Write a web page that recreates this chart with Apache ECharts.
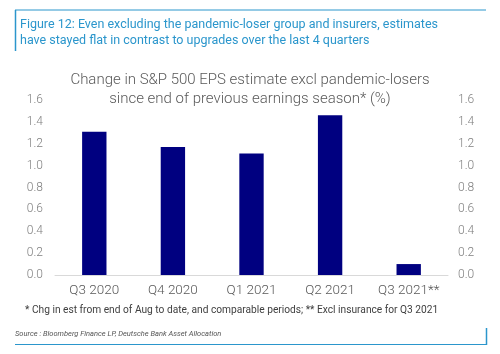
<!DOCTYPE html>
<html>
<head>
<meta charset="utf-8">
<script src="https://cdn.jsdelivr.net/npm/echarts@6/dist/echarts.min.js"></script>
<style>
  html, body { margin: 0; padding: 0; background: #fff; }
  #chart { width: 500px; height: 354px; }
</style>
</head>
<body>
<div id="chart"></div>
<script>
// 数据
const categories = ['Q3 2020', 'Q4 2020', 'Q1 2021', 'Q2 2021', 'Q3 2021**'];
const epsChange = [1.31, 1.17, 1.11, 1.46, 0.10];
const axisMin = 0;
const axisMax = 1.6;
const axisStep = 0.2;

const BLUE = '#2b96cc';
const FONT = 'Roboto, "Open Sans", Arial, sans-serif';

const chart = echarts.init(document.getElementById('chart'), null, { renderer: 'canvas' });

const yAxisBase = {
  type: 'value', min: axisMin, max: axisMax, interval: axisStep,
  axisLine: { show: false }, axisTick: { show: false }, splitLine: { show: false },
  axisLabel: { color: '#7f7f7f', fontSize: 12, fontWeight: 300, fontFamily: FONT, formatter: (v) => v.toFixed(1) }
};

chart.setOption({
  animation: false,
  grid: { left: 55, right: 52, top: 100, bottom: 79, containLabel: false },
  title: {
    text: 'Change in S&P 500 EPS estimate excl pandemic-losers\nsince end of previous earnings season* (%)',
    left: 'center', top: 66,
    textStyle: { color: '#595959', fontSize: 15, fontWeight: 300, fontFamily: FONT, lineHeight: 19 }
  },
  xAxis: {
    type: 'category', data: categories,
    axisLine: { lineStyle: { color: '#d9d9d9', width: 1 } },
    axisTick: { show: false },
    axisLabel: { interval: 0, hideOverlap: false, color: '#595959', fontSize: 13.5, fontWeight: 300, fontFamily: FONT, margin: 9 }
  },
  yAxis: [
    Object.assign({}, yAxisBase, { position: 'left', axisLabel: Object.assign({}, yAxisBase.axisLabel, { margin: 12 }) }),
    Object.assign({}, yAxisBase, { position: 'right', axisLabel: Object.assign({}, yAxisBase.axisLabel, { margin: 10 }) })
  ],
  series: [{
    type: 'bar', data: epsChange, barWidth: '31%',
    itemStyle: { color: '#000080' }
  }],
  graphic: [
    // 顶部框线
    { type: 'line', shape: { x1: 15, y1: 10, x2: 486, y2: 10 }, style: { stroke: BLUE, lineWidth: 1 } },
    { type: 'line', shape: { x1: 15.5, y1: 10, x2: 15.5, y2: 51 }, style: { stroke: BLUE, lineWidth: 1.5 } },
    {
      type: 'text', left: 20, top: 17,
      style: {
        text: 'Figure 12: Even excluding the pandemic-loser group and insurers, estimates\nhave stayed flat in contrast to upgrades over the last 4 quarters',
        fill: BLUE, font: '12.5px ' + FONT, lineHeight: 16
      }
    },
    {
      type: 'text', left: 25, top: 305,
      style: {
        text: '* Chg in est from end of Aug to date, and comparable periods; ** Excl insurance for Q3 2021',
        fill: '#404040', font: '10.2px ' + FONT
      }
    },
    {
      type: 'text', left: 15, top: 330,
      style: {
        text: 'Source : Bloomberg Finance LP, Deutsche Bank Asset Allocation',
        fill: '#555', font: 'italic 7.5px ' + FONT
      }
    },
    // 底部框线
    { type: 'line', shape: { x1: 15, y1: 344.5, x2: 487, y2: 344.5 }, style: { stroke: BLUE, lineWidth: 1 } },
    { type: 'line', shape: { x1: 486.5, y1: 328, x2: 486.5, y2: 345 }, style: { stroke: BLUE, lineWidth: 1.5 } }
  ]
});
</script>
</body>
</html>
